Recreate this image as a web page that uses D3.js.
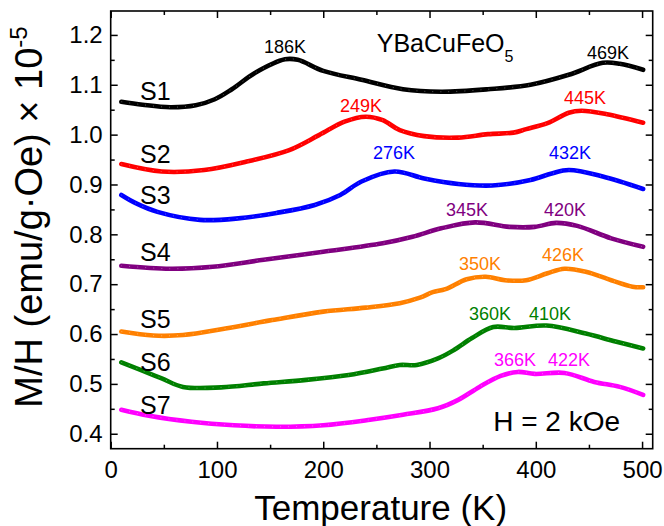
<!DOCTYPE html>
<html>
<head>
<meta charset="utf-8">
<script src="https://cdn.jsdelivr.net/npm/d3@7"></script>
<style>
  body { margin: 0; background: #fff; }
  svg { display: block; }
  text { font-family: "Liberation Sans", Arial, sans-serif; fill: #000; }
</style>
</head>
<body>
<svg width="664" height="526"></svg>
<script>
// data: [temperature K, M/H x 1e-5]
const s1 = [[10,1.066],[30,1.060],[56,1.055],[80,1.059],[98,1.071],[114,1.091],[136,1.124],[164,1.151],[176,1.150],
  [200,1.128],[236,1.110],[275,1.091],[311,1.086],[355,1.091],[395,1.100],[431,1.120],[463,1.144],[479,1.142],[501,1.130]];
const s2 = [[10,0.941],[48,0.926],[88,0.929],[128,0.946],[168,0.969],[196,0.999],[220,1.026],[240,1.036],
  [256,1.029],[272,1.009],[295,0.997],[327,0.994],[355,1.001],[379,1.004],[391,1.011],[411,1.023],[431,1.044],
  [443,1.048],[467,1.041],[501,1.024]];
const s3 = [[10,0.879],[24,0.862],[44,0.845],[84,0.829],[120,0.832],[156,0.843],[192,0.859],[216,0.879],
  [236,0.906],[267,0.926],[295,0.912],[327,0.901],[359,0.898],[395,0.909],[415,0.922],[431,0.929],[463,0.916],[501,0.891]];
const s4 = [[10,0.737],[56,0.731],[96,0.735],[144,0.749],[200,0.765],[256,0.782],[284,0.795],[311,0.812],
  [343,0.824],[375,0.815],[399,0.815],[419,0.823],[439,0.817],[471,0.792],[501,0.775]];
const s5 = [[10,0.605],[40,0.597],[68,0.598],[108,0.611],[152,0.628],[200,0.645],[240,0.653],[272,0.662],
  [291,0.673],[303,0.684],[315,0.690],[335,0.710],[353,0.715],[371,0.708],[391,0.708],[411,0.722],[427,0.731],
  [447,0.725],[471,0.708],[491,0.695],[501,0.694]];
const s6 = [[10,0.543],[28,0.528],[48,0.511],[68,0.494],[104,0.493],[144,0.501],[184,0.508],[224,0.518],
  [256,0.531],[272,0.538],[288,0.538],[308,0.551],[323,0.568],[340,0.592],[360,0.614],[380,0.612],[410,0.617],
  [447,0.601],[475,0.585],[501,0.571]];
const s7 = [[10,0.448],[36,0.436],[76,0.424],[116,0.417],[156,0.414],[200,0.417],[244,0.428],[275,0.438],
  [308,0.451],[327,0.468],[347,0.494],[367,0.516],[383,0.524],[399,0.520],[427,0.522],[455,0.504],[479,0.494],[501,0.478]];

const seriesNames = ["S1","S2","S3","S4","S5","S6","S7"];
const seriesData = [s1, s2, s3, s4, s5, s6, s7];
const colors = ["#000000","#ff0000","#0000ff","#800080","#ff8000","#008000","#ff00ff"];
// where each sample name sits: [T, value]
const nameAt = [[27.6,1.0696],[27.6,0.9426],[27.6,0.861],[27.6,0.747],[27.6,0.613],[27.6,0.5265],[27.6,0.4396]];

// peak labels: series index, text, [T, value]
const peaks = [
  [0,"186K",[164,1.163]],[0,"469K",[468,1.152]],
  [1,"249K",[235.5,1.0455]],[1,"445K",[446.4,1.0616]],
  [2,"276K",[266.6,0.951]],[2,"432K",[432.2,0.951]],
  [3,"345K",[335.3,0.8374]],[3,"420K",[427.5,0.8374]],
  [4,"350K",[347.5,0.7285]],[4,"426K",[425.6,0.7472]],
  [5,"360K",[357,0.628]],[5,"410K",[413.4,0.628]],
  [6,"366K",[380.5,0.536]],[6,"422K",[431.3,0.536]]
];

const xTicks = [0,100,200,300,400,500];
const yTicks = [0.4,0.5,0.6,0.7,0.8,0.9,1.0,1.1,1.2];

const svg = d3.select("svg");
const mLeft = 110.7, mRight = 652.7, mTop = 11, mBottom = 448.7;

const x = d3.scaleLinear().domain([0,510]).range([mLeft,mRight]);
const y = d3.scaleLinear().domain([0.37,1.248]).range([mBottom,mTop]);

const xMinor = d3.range(50,510,100);
const yMinor = d3.range(0.45,1.25,0.1).map(d => +d.toFixed(2));

// axes, ticks pointing inward
function ax(g, axis) {
  g.call(axis);
  g.select(".domain").remove();
  g.selectAll(".tick line").attr("stroke","#000").attr("stroke-width",1.5);
}
const fontTick = "24px";

svg.append("g").attr("transform",`translate(0,${mBottom})`)
  .call(g => ax(g, d3.axisBottom(x).tickValues(xTicks).tickSize(-7).tickPadding(12).tickFormat(d3.format("d"))))
  .selectAll("text").style("font-size",fontTick).attr("font-family",null);
svg.append("g").attr("transform",`translate(0,${mBottom})`)
  .call(g => ax(g, d3.axisBottom(x).tickValues(xMinor).tickSize(-4).tickFormat("")));
svg.append("g").attr("transform",`translate(0,${mTop})`)
  .call(g => ax(g, d3.axisTop(x).tickValues(xTicks).tickSize(-7).tickFormat("")));
svg.append("g").attr("transform",`translate(0,${mTop})`)
  .call(g => ax(g, d3.axisTop(x).tickValues(xMinor).tickSize(-4).tickFormat("")));

svg.append("g").attr("transform",`translate(${mLeft},0)`)
  .call(g => ax(g, d3.axisLeft(y).tickValues(yTicks).tickSize(-7).tickPadding(8).tickFormat(d3.format(".1f"))))
  .selectAll("text").style("font-size",fontTick).attr("font-family",null);
svg.append("g").attr("transform",`translate(${mLeft},0)`)
  .call(g => ax(g, d3.axisLeft(y).tickValues(yMinor).tickSize(-4).tickFormat("")));
svg.append("g").attr("transform",`translate(${mRight},0)`)
  .call(g => ax(g, d3.axisRight(y).tickValues(yTicks).tickSize(-7).tickFormat("")));
svg.append("g").attr("transform",`translate(${mRight},0)`)
  .call(g => ax(g, d3.axisRight(y).tickValues(yMinor).tickSize(-4).tickFormat("")));

svg.selectAll(".tick text").attr("fill","#000");

svg.append("rect")
  .attr("x",mLeft).attr("y",mTop).attr("width",mRight-mLeft).attr("height",mBottom-mTop)
  .attr("fill","none").attr("stroke","#000").attr("stroke-width",1.6);

// curves
const line = d3.line().x(d => x(d[0])).y(d => y(d[1])).curve(d3.curveCatmullRom.alpha(0.5));

svg.append("g").selectAll("path")
  .data(seriesData)
  .join("path")
    .attr("d", line)
    .attr("fill","none")
    .attr("stroke",(d,i) => colors[i])
    .attr("stroke-width",4.6)
    .attr("stroke-linecap","round")
    .attr("stroke-linejoin","round");

// faint marker seams
svg.append("g").selectAll("path")
  .data(seriesData)
  .join("path")
    .attr("d", line)
    .attr("fill","none")
    .attr("stroke","#fff")
    .attr("stroke-opacity",0.35)
    .attr("stroke-width",1)
    .attr("stroke-dasharray","1 7");

// sample names
svg.append("g").selectAll("text")
  .data(seriesNames)
  .join("text")
    .attr("x",(d,i) => x(nameAt[i][0]))
    .attr("y",(d,i) => y(nameAt[i][1]))
    .style("font-size","25px")
    .text(d => d);

// peak labels
svg.append("g").selectAll("text")
  .data(peaks)
  .join("text")
    .attr("x",d => x(d[2][0]))
    .attr("y",d => y(d[2][1]))
    .attr("text-anchor","middle")
    .style("font-size","18px")
    .style("fill",d => colors[d[0]])
    .text(d => d[1]);

// compound name
const title = svg.append("text")
  .attr("x",x(250.3)).attr("y",y(1.166))
  .style("font-size","25px");
title.append("tspan").text("YBaCuFeO");
title.append("tspan").attr("dy",10).style("font-size","16px").text("5");

svg.append("text")
  .attr("x",x(479.3)).attr("y",y(0.406))
  .attr("text-anchor","end")
  .style("font-size","28px")
  .text("H = 2 kOe");

// axis titles
svg.append("text")
  .attr("x",(mLeft+mRight)/2 - 1).attr("y",520)
  .attr("text-anchor","middle")
  .style("font-size","35px")
  .text("Temperature (K)");

const yt = svg.append("text")
  .attr("transform","translate(42,217) rotate(-90)")
  .attr("text-anchor","middle")
  .style("font-size","38px");
yt.append("tspan").text("M/H (emu/g\u00b7Oe) \u00d7 10");
yt.append("tspan").attr("dy",-15).style("font-size","24px").text("-5");
</script>
</body>
</html>
